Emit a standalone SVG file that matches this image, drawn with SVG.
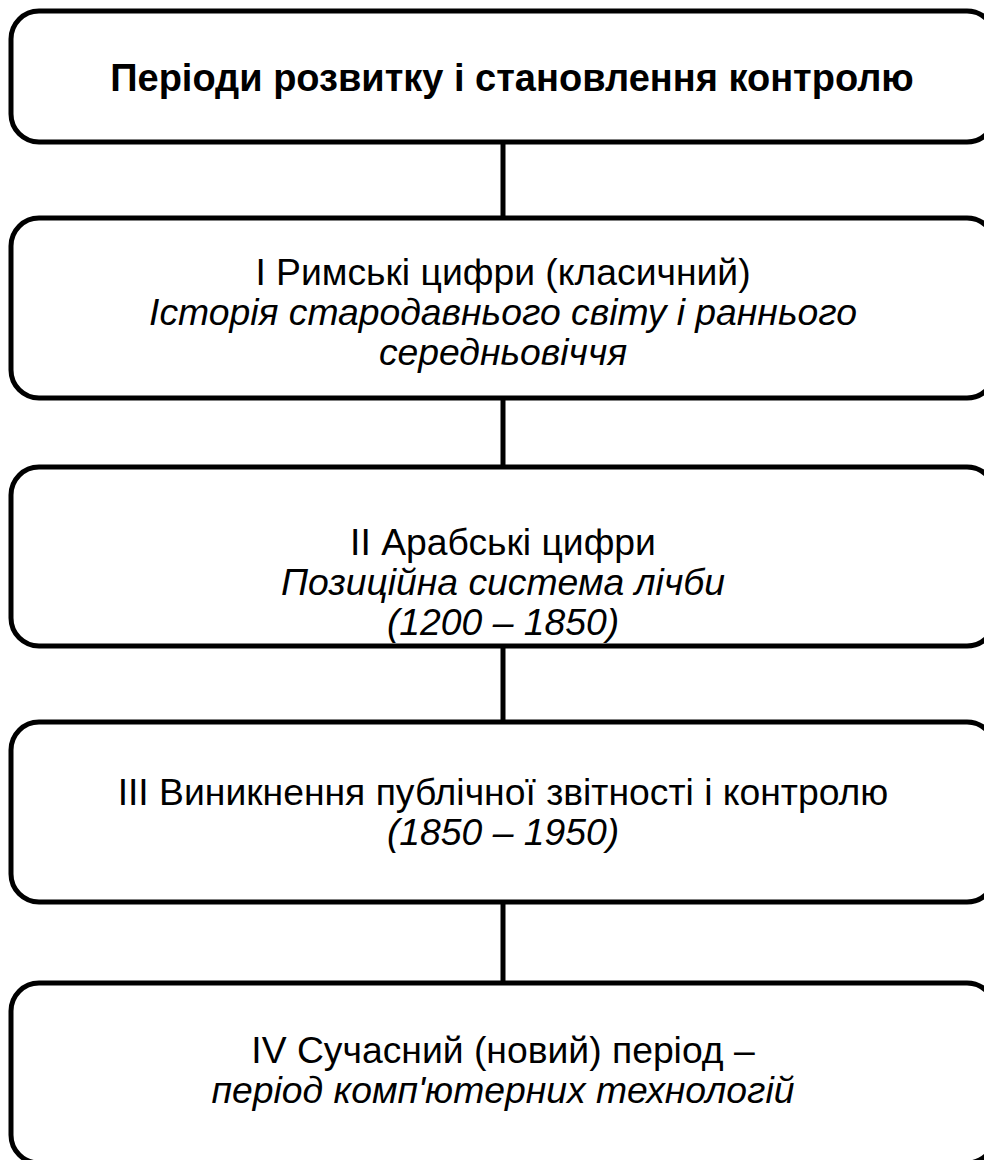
<svg xmlns="http://www.w3.org/2000/svg" width="984" height="1160" viewBox="0 0 984 1160">
<style>
.box{fill:#fff;stroke:#000;stroke-width:5}
.t{font-family:"Liberation Sans",Arial,sans-serif;font-size:37.3px;fill:#000;text-anchor:middle}
.b{font-weight:bold;font-size:38px}
.i{font-style:italic}
.c{stroke:#000;stroke-width:5;fill:none}
</style>
<g id="connectors">
<line class="c" x1="503" y1="142" x2="503" y2="218"/>
<line class="c" x1="503" y1="398" x2="503" y2="467"/>
<line class="c" x1="503" y1="646" x2="503" y2="722"/>
<line class="c" x1="503" y1="902" x2="503" y2="983"/>
</g>
<g id="node-title">
<rect class="box" x="11" y="11" width="984" height="131" rx="28"/>
<text class="t b" x="512" y="91">Періоди розвитку і становлення контролю</text>
</g>
<g id="node-1">
<rect class="box" x="11" y="218" width="984" height="180" rx="28"/>
<text class="t" x="503" y="285">I Римські цифри (класичний)</text>
<text class="t i" x="503" y="325">Історія стародавнього світу і раннього</text>
<text class="t i" x="503" y="365">середньовіччя</text>
</g>
<g id="node-2">
<rect class="box" x="11" y="467" width="984" height="179" rx="28"/>
<text class="t" x="503" y="555">II Арабські цифри</text>
<text class="t i" x="503" y="595">Позиційна система лічби</text>
<text class="t i" x="503" y="635">(1200 – 1850)</text>
</g>
<g id="node-3">
<rect class="box" x="11" y="722" width="984" height="180" rx="28"/>
<text class="t" x="503" y="805">III Виникнення публічної звітності і контролю</text>
<text class="t i" x="503" y="845">(1850 – 1950)</text>
</g>
<g id="node-4">
<rect class="box" x="11" y="983" width="984" height="180" rx="28"/>
<text class="t" x="503" y="1063">IV Сучасний (новий) період –</text>
<text class="t i" x="503" y="1103">період комп'ютерних технологій</text>
</g>
</svg>
